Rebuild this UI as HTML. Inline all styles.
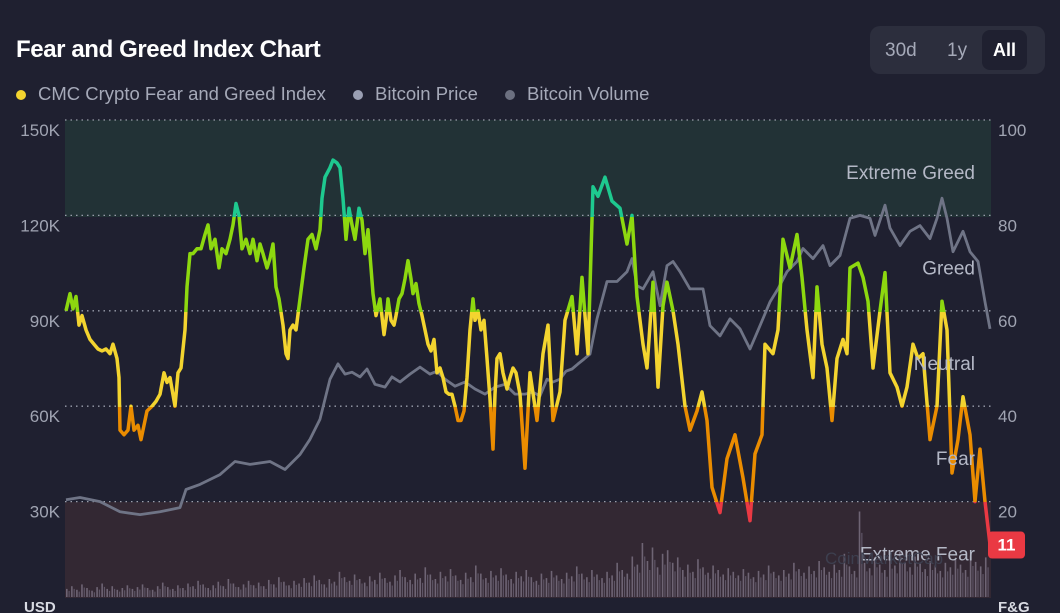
<!DOCTYPE html>
<html><head><meta charset="utf-8">
<style>
html,body{margin:0;padding:0;background:#1f2030;}
body{width:1060px;height:613px;overflow:hidden;position:relative;font-family:"Liberation Sans",sans-serif;}
.t{position:absolute;white-space:nowrap;}
</style></head>
<body>
<div class="t" style="left:16px;top:36px;font-size:24px;font-weight:bold;color:#fff;letter-spacing:-0.4px">Fear and Greed Index Chart</div>
<div style="position:absolute;left:870px;top:26px;width:175px;height:48px;background:#2c2e3d;border-radius:10px;">
  <div class="t" style="left:15px;top:14px;font-size:19px;color:#a5a9b8">30d</div>
  <div class="t" style="left:77px;top:14px;font-size:19px;color:#a5a9b8">1y</div>
  <div style="position:absolute;left:112px;top:4px;width:45px;height:40px;background:#1f2030;border-radius:8px;color:#fff;font-weight:bold;font-size:18px;text-align:center;line-height:40px">All</div>
</div>
<div style="position:absolute;left:16px;top:83px;font-size:18.5px;color:#a5a9b8;">
  <span><span style="display:inline-block;width:10px;height:10px;border-radius:5px;background:#f3d42f;margin-right:12px"></span>CMC Crypto Fear and Greed Index</span>
  <span style="margin-left:22px"><span style="display:inline-block;width:10px;height:10px;border-radius:5px;background:#9a9fb3;margin-right:12px"></span>Bitcoin Price</span>
  <span style="margin-left:22px"><span style="display:inline-block;width:10px;height:10px;border-radius:5px;background:#6c7080;margin-right:12px"></span>Bitcoin Volume</span>
</div>
<svg id="chart" width="1060" height="613" style="position:absolute;left:0;top:0" xmlns="http://www.w3.org/2000/svg">
<defs>
<linearGradient id="fg" gradientUnits="userSpaceOnUse" x1="0" y1="120" x2="0" y2="597">
<stop offset="0" stop-color="#1ec98f"/><stop offset="0.2034" stop-color="#1ec98f"/>
<stop offset="0.2034" stop-color="#8dd80f"/><stop offset="0.4025" stop-color="#8dd80f"/>
<stop offset="0.4025" stop-color="#f3d42f"/><stop offset="0.6017" stop-color="#f3d42f"/>
<stop offset="0.6017" stop-color="#ea8c00"/><stop offset="0.8008" stop-color="#ea8c00"/>
<stop offset="0.8008" stop-color="#ea3943"/><stop offset="1" stop-color="#ea3943"/>
</linearGradient>
</defs>
<g id="zones"></g><g id="grid"></g><g id="vol"></g><g id="price"></g><g id="fgline"></g><g id="labels"></g>
</svg>
<script>
const days=[0,4,7,10,13,16,20,24,28,32,36,40,44,47,51,53,54,58,62,65,68,72,75,78,81,86,90,94,98,101,104,109,112,115,119,121,124,127,131,135,139,142,145,149,153,156,160,164,167,170,173,176,180,184,187,191,194,197,201,204,207,210,213,217,220,222,224,227,230,234,238,242,246,250,254,256,259,264,267,271,274,277,280,283,286,289,293,296,299,302,305,307,310,314,318,320,322,325,328,330,333,336,339,342,345,347,350,353,356,359,362,365,368,371,374,377,380,383,386,389,392,395,398,401,404,407,409,412,415,418,421,424,427,429,431,434,437,441,444,447,450,454,459,
464,471,477,482,487,494,499,506,511,516,522,527,532,539,546,554,561,566,571,577,581,587,592,597,601,607,612,619,624,631,636,641,646,654,661,669,677,684,689,696,699,707,712,717,724,731,736,741,747,751,756,761,766,771,777,781,784,792,797,802,807,814,819,824,831,836,841,847,852,857,864,871,876,881,886,892,897,904,909,914,919,924];
const fgValues=[60,63.6,60.4,63,57,59,56,54,53,52,51.6,52,51,53,50,46,35,34,35,40,35,36,33,36,39,40,41,42.5,47,45,46,40,47,48,56,65,72,72,73,73,76,78,73,75,69,73,72,75,78,82.5,80,73,75,72,75,70.5,74,72,69,71,74,65,62.5,57,51,50,56,57,56,62.5,69,75,76,73,77,83.6,88,90,91.6,91,90,83.6,75,81.5,78,75,81.5,79,72,77,69,63.6,59,62.5,55,58,62.5,58,57,59,62.5,63.6,66.7,70.5,66.7,63.6,65.7,61.5,59,56,53,51.6,54,47,48,46,43,42.5,42.5,40,37,37,39,46,56,62.5,58,60,56,58,50,41.5,31,42.5,50,51,47,43.6,46,48,47,42.5,27,
47,37,51,57,37,43,58,63,51,67,51,86,84,88,83,81.5,74,80,63,53,48,66,44,61,66,60,53,40,35,39,43,37,23,17.7,29,34,25,16,30,34,53,51,56,75,69,76,67,56,46,65,53,48,37,50,54,51,69,70,67,62,48,60,68,47,44,40,44,53,50,51,33,40,62,56,26,33,42,34,20,31,20,11];
const priceDays=[0,14,34,54,74,94,114,120,134,154,169,184,204,219,234,244,254,259,264,272,279,286,294,301,309,319,326,334,344,354,364,371,379,389,399,409,419,429,439,449,459,467,474,481,487,494,500,506,512,518,524,531,541,551,561,566,571,577,587,594,601,607,614,624,637,644,654,664,674,684,694,704,712,721,731,737,747,757,764,774,784,794,804,809,819,824,834,844,854,864,871,876,881,887,897,904,912,919,924];
const priceK=[30.6,31.3,30,26.8,25.9,26.8,28.1,33.8,35.4,38.5,42.6,41.7,42.6,40.1,44.8,49.6,55.9,62.2,68.5,73.3,70.1,70.7,69.2,71.7,66.9,66,69.2,67.6,70.1,72.3,70.1,71,68.5,66.3,67.6,65.4,63.8,66,66.9,63.8,63.8,64.4,63.2,68.5,67.6,68.5,71,71.7,73.3,74.8,76.4,87.5,99.2,99.2,102.3,106.4,97.9,96.9,102.3,91.6,104.2,105.5,102.3,96.9,96.9,85.3,82.1,87.5,84.3,78,85.3,92.8,96.9,102.3,105.5,109.6,106.4,110.5,104.2,107.4,119.1,120,119.1,113.7,123.2,116,110.5,115,116.8,112.7,119.1,125.4,119.1,108.6,115,108.6,105.5,92.8,84.3];
const volume=[9,12,8,14,10,7,11,15,9,12,8,10,13,9,11,14,10,8,12,16,11,9,13,10,15,12,18,14,10,13,17,12,20,15,11,14,18,13,16,12,19,14,22,17,13,18,15,21,16,24,19,14,20,17,28,22,18,25,20,16,23,19,27,21,17,24,30,22,19,26,21,33,25,20,28,23,31,24,19,27,22,35,26,21,29,24,32,25,20,28,23,30,22,18,26,21,29,24,20,27,23,34,26,22,30,25,21,28,24,38,30,26,45,36,60,40,55,33,48,52,38,44,30,36,28,42,33,27,35,30,25,32,28,24,31,27,22,29,25,35,28,24,30,26,38,31,27,34,29,40,33,28,36,30,48,34,29,95,38,32,44,36,30,42,35,50,38,33,45,37,31,40,35,29,38,33,42,36,30,46,39,34,44];
const yTicksL=["150K","120K","90K","60K","30K"];
const yTicksR=["100","80","60","40","20"];
const zoneNames=["Extreme Greed","Greed","Neutral","Fear","Extreme Fear"];

const NS="http://www.w3.org/2000/svg";
const X0=66,X1=990,TOP=120,BOT=597;
function xDay(d){return X0+d*(X1-X0)/924;}
function yFG(v){return BOT-v*(BOT-TOP)/100;}
function yPrice(k){return BOT-k*(BOT-TOP)/150;}
function yVol(v){return BOT-v*0.9;}
function mk(tag,attrs,parent){const e=document.createElementNS(NS,tag);for(const k in attrs)e.setAttribute(k,attrs[k]);parent.appendChild(e);return e;}

const zones=document.getElementById('zones');
let z1=mk('rect',{x:65,y:120,width:926,height:97,fill:'#223236'},zones);


let z2=mk('rect',{x:65,y:502,width:926,height:96,fill:'#332833'},zones);



const grid=document.getElementById('grid');
const labels=document.getElementById('labels');
for(let i=0;i<5;i++){
  const y=yFG(100-i*20);
  const g=mk('line',{x1:65,x2:991,y1:y,y2:y,stroke:'#9a9eab','stroke-width':1.3,'stroke-dasharray':'1.5 4'},grid);
  
  
  const tl=mk('text',{x:60,y:y+16,'text-anchor':'end','font-size':17,fill:'#a0a4b2'},labels);
  tl.textContent=yTicksL[i];
  
  
  const tr=mk('text',{x:998,y:y+16,'font-size':17,fill:'#a0a4b2'},labels);
  tr.textContent=yTicksR[i];
  
  
  const zn=mk('text',{x:975,y:y+59,'text-anchor':'end','font-size':19,fill:'#b4b8c6'},labels);
  zn.textContent=zoneNames[i];
  
  
}
const wm=mk('text',{x:825,y:564,'font-size':17,fill:'#3d3f4f'},labels);
wm.textContent='CoinMarketCap';


const ua=mk('text',{x:24,y:612,'font-size':15,'font-weight':'bold',fill:'#d8dae2'},labels);
ua.textContent='USD';


const ra=mk('text',{x:998,y:612,'font-size':15,'font-weight':'bold',fill:'#d8dae2'},labels);
ra.textContent='F&G';



const vol=document.getElementById('vol');
const step=(X1-X0)/volume.length;
volume.forEach((v,i)=>{
  const x=X0+i*step;const y=yVol(v);
  const b=mk('rect',{x:x,y:y,width:1.6,height:BOT-y,fill:'#6e6474'},vol);
  
  
  const b2=mk('rect',{x:x+step/2,y:yVol(v*0.75),width:1.2,height:BOT-yVol(v*0.75),fill:'#5e5566'},vol);
  
  
});

const pp=priceDays.map((d,i)=>xDay(d).toFixed(1)+','+yPrice(priceK[i]).toFixed(1)).join(' ');
const pl=mk('polyline',{points:pp,fill:'none',stroke:'#6f7486','stroke-width':2.8,'stroke-linejoin':'round'},document.getElementById('price'));



const n=Math.min(days.length,fgValues.length);
const fp=[];for(let i=0;i<n;i++)fp.push(xDay(days[i]).toFixed(1)+','+yFG(fgValues[i]).toFixed(1));
const fl=mk('polyline',{points:fp.join(' '),fill:'none',stroke:'url(#fg)','stroke-width':3.5,'stroke-linejoin':'round'},document.getElementById('fgline'));



const last=fgValues[n-1];
const by=yFG(last);
const badge=mk('rect',{x:988,y:by-13,width:37,height:27,rx:4,fill:'#ea3943'},labels);


const bt=mk('text',{x:1006.5,y:by+6,'text-anchor':'middle','font-size':17,'font-weight':'bold',fill:'#fff'},labels);
bt.textContent=String(Math.round(last));


</script>
</body></html>
